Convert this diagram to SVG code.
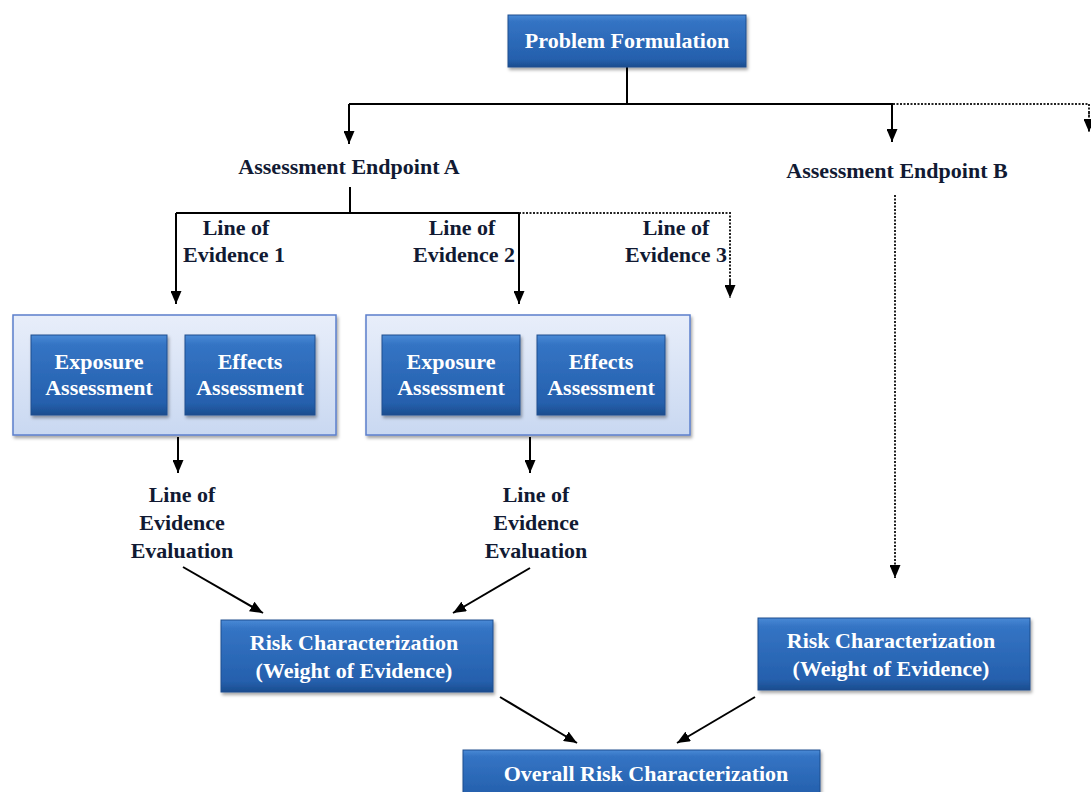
<svg xmlns="http://www.w3.org/2000/svg" width="1091" height="792" viewBox="0 0 1091 792">
<defs>
<linearGradient id="blue" x1="0" y1="0" x2="0" y2="1">
<stop offset="0" stop-color="#4a8ad6"/>
<stop offset="0.12" stop-color="#3474c4"/>
<stop offset="0.85" stop-color="#2560ad"/>
<stop offset="1" stop-color="#1b4d8f"/>
</linearGradient>
<linearGradient id="pale" x1="0" y1="0" x2="0" y2="1">
<stop offset="0" stop-color="#e8eefa"/>
<stop offset="1" stop-color="#c9d8f1"/>
</linearGradient>
<filter id="shadow" x="-10%" y="-10%" width="125%" height="135%">
<feDropShadow dx="1.5" dy="2.5" stdDeviation="1.5" flood-color="#000" flood-opacity="0.35"/>
</filter>
<marker id="arrow" markerUnits="userSpaceOnUse" viewBox="0 0 13 11" markerWidth="13" markerHeight="11" refX="13" refY="5.5" orient="auto">
<path d="M0,0 L13,5.5 L0,11 z" fill="#000"/>
</marker>
</defs>
<style>
.box{fill:url(#blue);stroke:#1e4f8f;stroke-width:1;filter:url(#shadow)}
.pane{fill:url(#pale);stroke:#5b7fcc;stroke-width:1.5;filter:url(#shadow)}
.wt{font-family:"Liberation Serif","Times New Roman",serif;font-weight:bold;font-size:22px;fill:#ffffff;text-anchor:middle}
.bt{font-family:"Liberation Serif","Times New Roman",serif;font-weight:bold;font-size:22px;fill:#111a33;text-anchor:middle}
.ln{fill:none;stroke:#000;stroke-width:2}
.dt{fill:none;stroke:#222;stroke-width:2;stroke-dasharray:2 1.5}
</style>
<rect width="1091" height="792" fill="#ffffff"/>

<g id="connectors">
<path class="ln" d="M627,67 V104"/>
<path class="ln" d="M349,104 H893"/>
<path class="dt" d="M893,104 H1089 V118"/>
<path class="ln" d="M349,104 V144" marker-end="url(#arrow)"/>
<path class="ln" d="M892,104 V142" marker-end="url(#arrow)"/>
<path class="dt" d="M1089,112 V132" marker-end="url(#arrow)"/>
<path class="ln" d="M350,187 V213"/>
<path class="ln" d="M176,213 H519"/>
<path class="dt" d="M519,213 H730 V290"/>
<path class="ln" d="M176,213 V304" marker-end="url(#arrow)"/>
<path class="ln" d="M519,213 V304" marker-end="url(#arrow)"/>
<path class="dt" d="M730,280 V298" marker-end="url(#arrow)"/>
<path class="ln" d="M178,437 V473" marker-end="url(#arrow)"/>
<path class="ln" d="M530,437 V473" marker-end="url(#arrow)"/>
<path class="ln" d="M183,567 L263,613" marker-end="url(#arrow)"/>
<path class="ln" d="M530,568 L453,613" marker-end="url(#arrow)"/>
<path class="dt" d="M895,195 V578" marker-end="url(#arrow)"/>
<path class="ln" d="M500,697 L577,743" marker-end="url(#arrow)"/>
<path class="ln" d="M755,697 L677,743" marker-end="url(#arrow)"/>
</g>

<g id="problem-formulation">
<rect class="box" x="508" y="15" width="238" height="52"/>
<text class="wt" x="627" y="48">Problem Formulation</text>
</g>

<g id="endpoint-a">
<text class="bt" x="349" y="174">Assessment Endpoint A</text>
</g>

<g id="endpoint-b">
<text class="bt" x="897" y="178">Assessment Endpoint B</text>
</g>

<g id="loe1-label">
<text class="bt" x="236" y="235">Line of</text>
<text class="bt" x="234" y="262">Evidence 1</text>
</g>
<g id="loe2-label">
<text class="bt" x="462" y="235">Line of</text>
<text class="bt" x="464" y="262">Evidence 2</text>
</g>
<g id="loe3-label">
<text class="bt" x="676" y="235">Line of</text>
<text class="bt" x="676" y="262">Evidence 3</text>
</g>

<g id="assessment-group-1">
<rect class="pane" x="13" y="315" width="323" height="120"/>
<rect class="box" x="31" y="335" width="136" height="80"/>
<text class="wt" x="99" y="369">Exposure</text>
<text class="wt" x="99" y="395">Assessment</text>
<rect class="box" x="185" y="335" width="130" height="80"/>
<text class="wt" x="250" y="369">Effects</text>
<text class="wt" x="250" y="395">Assessment</text>
</g>

<g id="assessment-group-2">
<rect class="pane" x="366" y="315" width="324" height="120"/>
<rect class="box" x="382" y="335" width="138" height="80"/>
<text class="wt" x="451" y="369">Exposure</text>
<text class="wt" x="451" y="395">Assessment</text>
<rect class="box" x="537" y="335" width="128" height="80"/>
<text class="wt" x="601" y="369">Effects</text>
<text class="wt" x="601" y="395">Assessment</text>
</g>

<g id="loe-eval-1">
<text class="bt" x="182" y="502">Line of</text>
<text class="bt" x="182" y="530">Evidence</text>
<text class="bt" x="182" y="558">Evaluation</text>
</g>
<g id="loe-eval-2">
<text class="bt" x="536" y="502">Line of</text>
<text class="bt" x="536" y="530">Evidence</text>
<text class="bt" x="536" y="558">Evaluation</text>
</g>

<g id="risk-char-a">
<rect class="box" x="221" y="620" width="272" height="72"/>
<text class="wt" x="354" y="650">Risk Characterization</text>
<text class="wt" x="354" y="678">(Weight of Evidence)</text>
</g>

<g id="risk-char-b">
<rect class="box" x="758" y="618" width="272" height="72"/>
<text class="wt" x="891" y="648">Risk Characterization</text>
<text class="wt" x="891" y="676">(Weight of Evidence)</text>
</g>

<g id="overall-risk">
<rect class="box" x="463" y="750" width="357" height="52"/>
<text class="wt" x="646" y="781">Overall Risk Characterization</text>
</g>
</svg>
